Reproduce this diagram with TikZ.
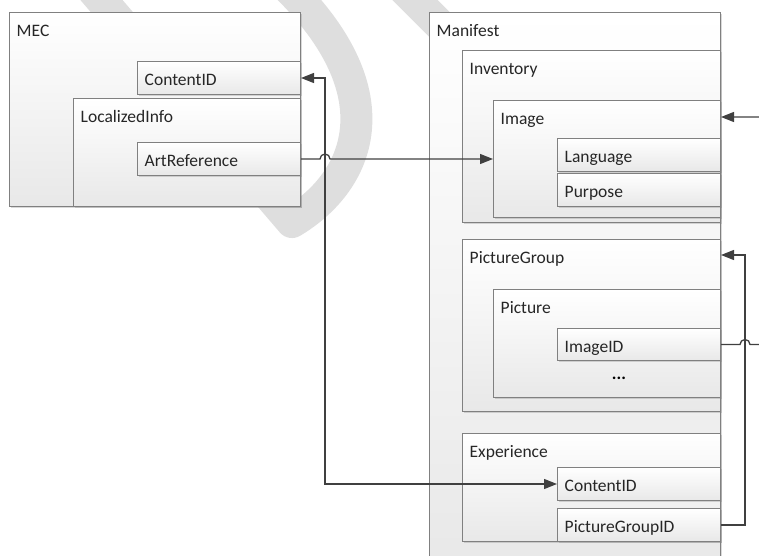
\documentclass[tikz,border=0pt]{standalone}
\usepackage{fontspec}
\setmainfont{Carlito}
\usetikzlibrary{arrows.meta,shadows}

\tikzset{
  box/.style={draw=black!50, line width=1pt, anchor=north west, inner sep=0,
    top color=white, bottom color=black!9,
    drop shadow={shadow xshift=1pt, shadow yshift=-1.5pt, opacity=0.3}},
  field/.style={box, minimum width=163, minimum height=33},
  title/.style={anchor=base west, inner sep=0, text=black!85},
  link/.style={draw=black!75, line width=1.3pt},
  wmark/.style={draw=black!13, line width=32pt, line join=round}
}

\begin{document}
\begin{tikzpicture}[x=1pt, y=-1pt, font=\fontsize{17.5}{21}\selectfont,
    >={Triangle[length=13pt,width=10pt]}]
  \clip (0,0) rectangle (759,555);
  % watermark
  \draw[wmark] (80,-25) -- (292,222) .. controls (362,180) and (397,90) .. (280,-20);
  \draw[wmark] (400,-15) -- (470,55);

  % MEC
  \node[box, minimum width=291, minimum height=194] (MEC) at (9,12) {};
  \node[field] (mecCID) at (137,61) {};
  \node[box, minimum width=227, minimum height=108] (locInfo) at (73,98) {};
  \node[field] (artRef) at (137,142) {};
  \node[title] at ([shift={(7.5,24)}]MEC.north west) {MEC};
  \node[title] at ([shift={(7.5,24)}]mecCID.north west) {ContentID};
  \node[title] at ([shift={(7.5,24)}]locInfo.north west) {LocalizedInfo};
  \node[title] at ([shift={(7.5,24)}]artRef.north west) {ArtReference};

  % Manifest
  \node[box, minimum width=291, minimum height=560] (manifest) at (429,12) {};
  \node[box, minimum width=258, minimum height=172] (inventory) at (462,50) {};
  \node[box, minimum width=227, minimum height=117] (image) at (493,100) {};
  \node[field] (lang) at (557,138) {};
  \node[field] (purpose) at (557,173) {};
  \node[box, minimum width=258, minimum height=172] (picGroup) at (462,239) {};
  \node[box, minimum width=227, minimum height=108] (picture) at (493,289) {};
  \node[field, minimum height=32] (imgID) at (557,328) {};
  \node (dots) at (619,378) {\textbf{...}};
  \node[box, minimum width=258, minimum height=108] (experience) at (462,433) {};
  \node[field] (expCID) at (557,467) {};
  \node[field] (pgID) at (557,508) {};
  \node[title] at ([shift={(7.5,24)}]manifest.north west) {Manifest};
  \node[title] at ([shift={(7.5,24)}]inventory.north west) {Inventory};
  \node[title] at ([shift={(7.5,24)}]image.north west) {Image};
  \node[title] at ([shift={(7.5,24)}]lang.north west) {Language};
  \node[title] at ([shift={(7.5,24)}]purpose.north west) {Purpose};
  \node[title] at ([shift={(7.5,24)}]picGroup.north west) {PictureGroup};
  \node[title] at ([shift={(7.5,24)}]picture.north west) {Picture};
  \node[title] at ([shift={(7.5,24)}]imgID.north west) {ImageID};
  \node[title] at ([shift={(7.5,24)}]experience.north west) {Experience};
  \node[title] at ([shift={(7.5,24)}]expCID.north west) {ContentID};
  \node[title] at ([shift={(7.5,24)}]pgID.north west) {PictureGroupID};

  % links
  \draw[link, <->] (mecCID.east) -- ++(24,0) |- (expCID.west);
  \draw[link, ->] (artRef.east) -- ++(19,0) arc[start angle=180, end angle=0, radius=5pt] -- (image.west);
  \draw[link, ->] (imgID.east) -- ++(19,0) arc[start angle=180, end angle=0, radius=5pt] -- ++(40,0) |- ([yshift=-17pt]image.north east);
  \draw[link, ->] (pgID.east) -- ++(24,0) |- ([yshift=-16pt]picGroup.north east);
\end{tikzpicture}
\end{document}
